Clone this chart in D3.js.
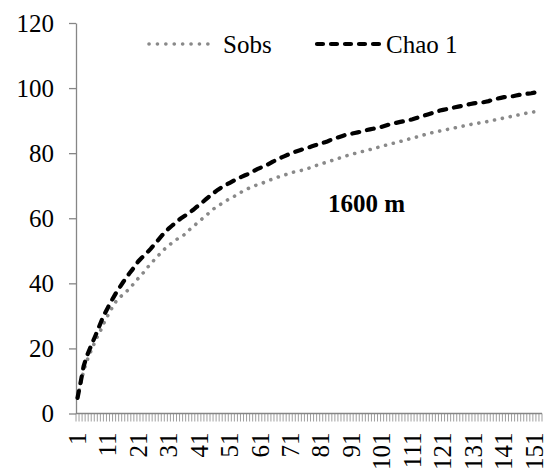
<!DOCTYPE html>
<html>
<head>
<meta charset="utf-8">
<script src="https://cdn.jsdelivr.net/npm/d3@7"></script>
<style>
  body { margin: 0; background: #fff; }
</style>
</head>
<body>
<div id="chart"></div>
<script>

// frame constants
const FRAME_WIDTH = 556;
const FRAME_HEIGHT = 476;
const MARGINS = {left: 76, right: 14, top: 23, bottom: 62.5};

const VIS_WIDTH = FRAME_WIDTH - MARGINS.left - MARGINS.right;
const VIS_HEIGHT = FRAME_HEIGHT - MARGINS.top - MARGINS.bottom;

const FONT = "'Liberation Serif', 'Times New Roman', serif";

// data
const SAMPLES = d3.range(1, 154);

const SOBS = [
  4.8, 9, 13, 16, 18.3, 20.5, 22.6, 24.5, 26.3, 28.5,
  30.2, 31.9, 33.6, 34.9, 35.8, 36.6, 37.4, 38.4, 39.4, 40.5,
  41.6, 42.6, 43.7, 44.9, 46, 47, 48, 49, 50, 50.9,
  51.7, 52.4, 53.1, 53.8, 54.4, 54.9, 55.8, 56.7, 57.5, 58.3,
  59.1, 59.9, 60.7, 61.5, 62.4, 63.1, 63.7, 64.3, 64.9, 65.5,
  66, 66.5, 67, 67.5, 68.2, 68.7, 69.1, 69.5, 69.9, 70.3,
  70.6, 70.9, 71.3, 71.7, 72, 72.4, 72.7, 73, 73.3, 73.6,
  73.9, 74.2, 74.4, 74.6, 74.8, 75.1, 75.4, 75.8, 76.1, 76.4,
  76.7, 77, 77.3, 77.6, 77.9, 78.2, 78.5, 78.8, 79.1, 79.4,
  79.6, 79.9, 80.1, 80.4, 80.6, 80.9, 81.1, 81.4, 81.6, 81.9,
  82.1, 82.4, 82.6, 82.9, 83.1, 83.4, 83.6, 83.9, 84.1, 84.4,
  84.6, 84.9, 85.1, 85.4, 85.7, 86, 86.2, 86.4, 86.6, 86.8,
  87, 87.2, 87.4, 87.6, 87.8, 88, 88.2, 88.4, 88.6, 88.8,
  89, 89.1, 89.3, 89.4, 89.6, 89.8, 90, 90.2, 90.4, 90.6,
  90.8, 91, 91.2, 91.4, 91.6, 91.8, 92, 92.2, 92.4, 92.6,
  92.7, 92.8, 93
];

const CHAO1 = [
  4.8, 9.5, 14.5, 17.5, 19.8, 22, 24.2, 26.5, 28.8, 30.8,
  32.6, 34.4, 36, 37.6, 39, 40.4, 41.8, 43, 44.2, 45.5,
  46.8, 47.8, 48.7, 49.6, 50.6, 51.7, 52.8, 53.9, 55, 56,
  56.9, 57.7, 58.5, 59.3, 60, 60.6, 61.2, 61.9, 62.6, 63.4,
  64.1, 64.9, 65.7, 66.5, 67.3, 68, 68.7, 69.3, 69.9, 70.4,
  70.9, 71.4, 71.9, 72.4, 72.8, 73.2, 73.6, 74.1, 74.6, 75.1,
  75.5, 75.9, 76.3, 76.8, 77.3, 77.8, 78.3, 78.7, 79.1, 79.5,
  79.9, 80.3, 80.6, 80.9, 81.2, 81.5, 81.8, 82.1, 82.4, 82.7,
  83, 83.3, 83.6, 84, 84.4, 84.7, 85, 85.3, 85.6, 85.8,
  86, 86.2, 86.4, 86.6, 86.9, 87.1, 87.3, 87.5, 87.7, 87.9,
  88.1, 88.4, 88.7, 89, 89.2, 89.4, 89.6, 89.8, 90, 90.2,
  90.4, 90.7, 91, 91.3, 91.6, 91.9, 92.2, 92.5, 92.8, 93.1,
  93.3, 93.5, 93.7, 93.9, 94.1, 94.3, 94.5, 94.7, 94.9, 95.1,
  95.3, 95.4, 95.5, 95.6, 95.8, 96, 96.3, 96.6, 96.8, 97,
  97.2, 97.3, 97.4, 97.5, 97.7, 97.9, 98.1, 98.2, 98.3, 98.4,
  98.6, 98.8, 99.1
];

const Y_TICKS = [0, 20, 40, 60, 80, 100, 120];
const X_LABELS = [1, 11, 21, 31, 41, 51, 61, 71, 81, 91, 101, 111, 121, 131, 141, 151];
const SERIES_NAMES = ["Sobs", "Chao 1"];
const PANEL_LABEL = "1600 m";

const AXIS_COLOR = "#868686";

const FRAME = d3.select("#chart")
                .append("svg")
                  .attr("width", FRAME_WIDTH)
                  .attr("height", FRAME_HEIGHT);

// scales
const X_SCALE = d3.scaleBand()
                  .domain(SAMPLES)
                  .range([0, VIS_WIDTH]);

const Y_SCALE = d3.scaleLinear()
                  .domain([0, 120])
                  .range([VIS_HEIGHT, 0]);

const G = FRAME.append("g")
               .attr("transform", "translate(" + MARGINS.left + "," + MARGINS.top + ")");

// y axis
const Y_AXIS = G.append("g")
                .call(d3.axisLeft(Y_SCALE).tickValues(Y_TICKS).tickSize(7).tickPadding(15).tickSizeOuter(0));
Y_AXIS.selectAll("path, line").attr("stroke", AXIS_COLOR).attr("stroke-width", 1.3);
Y_AXIS.selectAll("text").attr("fill", "#000")
      .style("font-family", FONT).style("font-size", "25px");

// x axis line + a tick at every category boundary
const X_AXIS = G.append("g")
                .attr("transform", "translate(0," + VIS_HEIGHT + ")");

X_AXIS.append("line")
      .attr("x1", 0).attr("x2", VIS_WIDTH)
      .attr("stroke", AXIS_COLOR).attr("stroke-width", 1.3);

const BOUNDS = SAMPLES.map((d) => X_SCALE(d)).concat([VIS_WIDTH]);
X_AXIS.selectAll(".xtick")
      .data(BOUNDS)
      .enter()
      .append("line")
        .attr("x1", (d) => d).attr("x2", (d) => d)
        .attr("y1", 0).attr("y2", 8)
        .attr("stroke", AXIS_COLOR).attr("stroke-width", 0.8);

X_AXIS.selectAll(".xlabel")
      .data(X_LABELS)
      .enter()
      .append("text")
        .attr("transform", (d) => "translate(" + (X_SCALE(d) + X_SCALE.bandwidth() / 2) + ",19) rotate(-90)")
        .attr("text-anchor", "end")
        .attr("dy", "0.33em")
        .style("font-family", FONT).style("font-size", "25px")
        .text((d) => d);

// lines
const LINE = (vals) => d3.line()
                          .x((d, i) => X_SCALE(SAMPLES[i]) + X_SCALE.bandwidth() / 2)
                          .y((d) => Y_SCALE(d))(vals);

G.append("path")
  .attr("d", LINE(SOBS))
  .attr("fill", "none")
  .attr("stroke", "#898989")
  .attr("stroke-width", 3.6)
  .attr("stroke-linecap", "round")
  .attr("stroke-dasharray", "0.1,7.9");

G.append("path")
  .attr("d", LINE(CHAO1))
  .attr("fill", "none")
  .attr("stroke", "#000")
  .attr("stroke-width", 4.2)
  .attr("stroke-linecap", "round")
  .attr("stroke-dasharray", "7,8");

// legend
const LEG = FRAME.append("g");
LEG.append("line")
   .attr("x1", 149).attr("x2", 216).attr("y1", 44).attr("y2", 44)
   .attr("stroke", "#898989").attr("stroke-width", 3.6)
   .attr("stroke-linecap", "round").attr("stroke-dasharray", "0.1,8.3");
LEG.append("text")
   .attr("x", 223).attr("y", 52.5)
   .style("font-family", FONT).style("font-size", "25px")
   .text(SERIES_NAMES[0]);

LEG.append("line")
   .attr("x1", 317).attr("x2", 383).attr("y1", 44).attr("y2", 44)
   .attr("stroke", "#000").attr("stroke-width", 4.2)
   .attr("stroke-linecap", "round").attr("stroke-dasharray", "6,8");
LEG.append("text")
   .attr("x", 386).attr("y", 52.5)
   .style("font-family", FONT).style("font-size", "25px")
   .text(SERIES_NAMES[1]);

// panel label
FRAME.append("text")
     .attr("x", 328).attr("y", 212)
     .style("font-family", FONT).style("font-size", "25px").style("font-weight", "bold")
     .text(PANEL_LABEL);

</script>
</body>
</html>
